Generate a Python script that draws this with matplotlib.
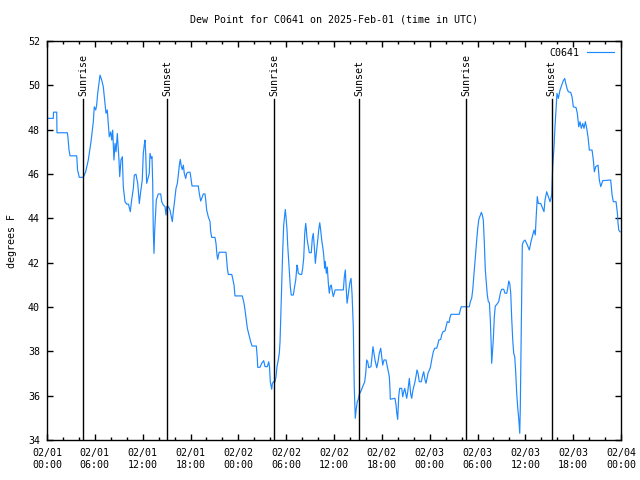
#!/usr/bin/env python3
"""
Dew point trace for station C0641, 2025-02-01 .. 02-04 (UTC), gnuplot look.
"""

import matplotlib

matplotlib.use("Agg")
import matplotlib.pyplot as plt
import matplotlib.dates as mdates
import pandas as pd

START = pd.Timestamp("2025-02-01 00:00")

# hours since START, dew point (F)
hours = [
    0.00, 0.79, 0.82, 1.22, 1.25, 2.55, 2.63, 2.76, 2.89, 3.73, 3.83, 4.05, 4.55, 4.85, 5.18,
    5.52, 5.81, 5.93, 6.11, 6.23, 6.36, 6.65, 6.86, 7.06, 7.19, 7.40, 7.56, 7.81, 7.99, 8.12,
    8.24, 8.40, 8.53, 8.66, 8.82, 9.03, 9.12, 9.28, 9.45, 9.57, 9.78, 10.00, 10.22, 10.45, 10.62,
    10.83, 10.95, 11.16, 11.38, 11.58, 11.75, 11.95, 12.08, 12.20, 12.29, 12.38, 12.50, 12.83, 12.92, 13.05,
    13.17, 13.26, 13.33, 13.42, 13.51, 13.58, 13.71, 13.96, 14.26, 14.39, 14.59, 14.80, 14.93, 15.02, 15.22,
    15.43, 15.64, 15.72, 15.84, 16.02, 16.18, 16.35, 16.47, 16.60, 16.72, 16.85, 16.97, 17.10, 17.22, 17.40,
    17.52, 17.72, 17.94, 18.06, 18.19, 18.98, 19.10, 19.28, 19.41, 19.61, 19.82, 19.91, 20.03, 20.23, 20.45,
    20.53, 20.66, 21.07, 21.20, 21.32, 21.41, 21.51, 21.61, 22.45, 22.52, 22.62, 22.74, 23.17, 23.29, 23.46,
    23.58, 24.50, 24.71, 24.84, 25.00, 25.13, 25.34, 25.55, 25.72, 26.26, 26.38, 26.43, 26.72, 26.93, 27.18,
    27.35, 27.64, 27.81, 27.91, 28.01, 28.19, 28.26, 28.39, 28.60, 28.73, 28.85, 29.01, 29.14, 29.23, 29.32,
    29.44, 29.57, 29.69, 29.82, 29.89, 29.98, 30.11, 30.19, 30.27, 30.39, 30.52, 30.64, 30.90, 31.02, 31.20,
    31.36, 31.45, 31.52, 31.74, 31.95, 32.07, 32.20, 32.33, 32.45, 32.53, 32.61, 32.78, 32.90, 33.15, 33.28,
    33.40, 33.53, 33.66, 33.78, 33.96, 34.08, 34.21, 34.33, 34.46, 34.58, 34.71, 34.83, 34.91, 35.04, 35.16,
    35.29, 35.41, 35.54, 35.66, 35.79, 35.91, 36.04, 36.13, 37.17, 37.30, 37.42, 37.51, 37.64, 37.76, 37.89,
    38.01, 38.14, 38.26, 38.42, 38.54, 38.67, 38.80, 38.92, 39.05, 39.17, 39.35, 39.51, 39.68, 39.85, 39.98,
    40.10, 40.23, 40.36, 40.64, 40.77, 40.89, 41.02, 41.14, 41.36, 41.52, 41.68, 41.86, 41.98, 42.11, 42.27,
    42.52, 42.65, 42.77, 42.94, 43.03, 43.06, 43.65, 43.78, 43.87, 43.99, 44.12, 44.24, 44.49, 44.62, 44.75,
    44.87, 45.00, 45.12, 45.25, 45.37, 45.45, 45.62, 45.75, 45.87, 46.00, 46.16, 46.29, 46.41, 46.54, 46.70,
    46.95, 47.13, 47.25, 47.42, 47.54, 47.67, 47.79, 48.08, 48.21, 48.33, 48.46, 48.63, 48.88, 49.01, 49.14,
    49.39, 49.51, 49.68, 49.93, 50.05, 50.21, 50.43, 50.55, 50.68, 51.72, 51.84, 51.97, 52.97, 53.10, 53.27,
    53.40, 53.53, 53.65, 53.78, 53.90, 54.03, 54.15, 54.28, 54.40, 54.48, 54.61, 54.73, 54.86, 54.98, 55.11,
    55.23, 55.36, 55.49, 55.61, 55.74, 55.78, 55.86, 55.98, 56.11, 56.23, 56.36, 56.53, 56.66, 56.78, 56.91,
    57.03, 57.29, 57.45, 57.66, 57.79, 57.92, 58.04, 58.17, 58.29, 58.42, 58.54, 58.67, 58.79, 58.92, 59.05,
    59.17, 59.30, 59.37, 59.50, 59.62, 59.75, 59.96, 60.25, 60.50, 60.71, 60.93, 61.09, 61.25, 61.34, 61.50,
    61.63, 61.93, 62.18, 62.34, 62.47, 62.68, 62.88, 63.10, 63.31, 63.43, 63.60, 63.72, 63.85, 63.97, 64.14,
    64.35, 64.56, 64.76, 64.94, 65.07, 65.23, 65.39, 65.69, 65.86, 66.02, 66.36, 66.52, 66.70, 66.86, 67.02,
    67.20, 67.36, 67.53, 67.70, 67.86, 68.03, 68.37, 68.53, 68.66, 68.83, 69.12, 69.28, 69.46, 69.71, 70.71,
    70.88, 71.04, 71.38, 71.55, 71.63, 71.72, 71.89,
]
dewpoint = [
    48.51, 48.51, 48.79, 48.79, 47.86, 47.86, 47.65, 47.08, 46.82, 46.82, 46.18, 45.85, 45.85, 46.10, 46.63,
    47.46, 48.36, 49.03, 48.89, 49.11, 49.64, 50.46, 50.24, 49.94, 49.48, 48.74, 48.89, 47.68, 47.90, 47.53,
    47.98, 46.63, 47.38, 47.00, 47.83, 46.63, 45.88, 46.63, 46.78, 45.43, 44.75, 44.64, 44.64, 44.30, 44.83,
    45.35, 45.95, 45.99, 45.58, 44.67, 45.20, 45.73, 46.93, 47.31, 47.53, 46.93, 45.58, 46.03, 46.93, 46.71,
    46.78, 45.58, 43.47, 42.42, 43.47, 43.92, 44.83, 45.10, 45.10, 44.75, 44.60, 44.53, 44.15, 44.53, 44.53,
    44.37, 44.00, 43.85, 44.30, 44.83, 45.35, 45.58, 45.95, 46.40, 46.66, 46.33, 46.20, 46.40, 46.03, 45.80,
    46.03, 46.08, 46.08, 45.80, 45.46, 45.46, 45.13, 44.78, 44.90, 45.10, 45.10, 44.83, 44.37, 44.07, 43.85,
    43.40, 43.14, 43.14, 42.87, 42.35, 42.15, 42.35, 42.47, 42.47, 42.20, 41.75, 41.47, 41.47, 41.29, 40.99,
    40.50, 40.50, 40.17, 39.86, 39.41, 39.04, 38.74, 38.43, 38.24, 38.24, 37.68, 37.28, 37.28, 37.46, 37.58,
    37.31, 37.31, 37.53, 37.31, 36.63, 36.29, 36.53, 36.63, 36.63, 36.86, 37.31, 37.61, 37.91, 38.43, 39.56,
    40.99, 42.57, 43.70, 44.15, 44.40, 44.07, 43.47, 42.80, 42.35, 41.67, 40.92, 40.54, 40.54, 40.84, 41.22,
    41.89, 41.75, 41.52, 41.47, 41.47, 41.75, 42.20, 43.32, 43.77, 43.50, 43.10, 42.72, 42.45, 42.45, 43.10,
    43.32, 42.72, 41.97, 42.42, 43.02, 43.47, 43.80, 43.47, 43.02, 42.72, 42.35, 41.75, 42.05, 41.52, 41.80,
    41.07, 40.62, 40.95, 40.99, 40.69, 40.47, 40.62, 40.77, 40.77, 41.37, 41.67, 40.99, 40.17, 40.47, 40.84,
    41.14, 41.29, 40.62, 39.11, 36.40, 34.98, 35.43, 35.73, 35.84, 36.07, 36.18, 36.33, 36.48, 36.63, 37.01,
    37.61, 37.53, 37.26, 37.31, 37.76, 38.21, 37.91, 37.61, 37.26, 37.53, 37.91, 38.14, 37.76, 37.38, 37.61,
    37.61, 37.38, 37.16, 36.86, 36.25, 35.84, 35.88, 35.58, 35.23, 34.93, 35.98, 36.33, 36.33, 35.95, 36.18,
    36.33, 36.10, 35.88, 36.18, 36.53, 36.78, 36.06, 35.88, 36.18, 36.40, 36.63, 36.89, 37.16, 37.01, 36.63,
    36.63, 36.93, 37.08, 36.71, 36.56, 36.78, 37.01, 37.26, 37.53, 37.76, 37.98, 38.14, 38.14, 38.29, 38.51,
    38.54, 38.74, 38.89, 38.92, 39.11, 39.34, 39.30, 39.53, 39.67, 39.67, 39.86, 40.01, 40.01, 40.24, 40.39,
    40.77, 41.37, 41.97, 42.57, 43.02, 43.55, 43.92, 44.07, 44.18, 44.27, 44.15, 43.92, 42.87, 41.67, 41.07,
    40.54, 40.24, 40.20, 39.41, 38.06, 37.46, 37.91, 38.51, 39.56, 40.04, 40.09, 40.17, 40.24, 40.47, 40.69,
    40.80, 40.80, 40.62, 40.62, 40.84, 41.17, 41.07, 40.62, 39.49, 38.51, 37.91, 37.76, 37.08, 36.10, 35.43,
    34.98, 34.30, 35.50, 39.41, 42.80, 42.95, 43.02, 42.80, 42.57, 42.95, 43.25, 43.47, 43.25, 43.92, 44.98,
    44.67, 44.67, 44.45, 44.30, 44.83, 45.20, 44.98, 44.75, 45.05, 46.33, 47.23, 48.13, 48.89, 49.64, 49.41,
    49.79, 50.01, 50.21, 50.31, 50.09, 49.86, 49.71, 49.68, 49.48, 49.03, 49.00, 48.74, 48.13, 48.36, 48.06,
    48.28, 48.06, 48.36, 48.06, 47.68, 47.08, 47.08, 46.63, 46.10, 46.33, 46.40, 45.73, 45.43, 45.70, 45.73,
    45.05, 44.75, 44.75, 44.22, 43.77, 43.47, 43.39,
]

sunrise_hours = [4.55, 28.51, 52.60]
sunset_hours = [15.09, 39.17, 63.31]
marker_top = 49.38

FONT = "DejaVu Sans Mono"
FS = 7.2


def to_time(h):
    return START + pd.to_timedelta(h, unit="h")


def main() -> None:
    plt.rcParams["font.family"] = FONT
    plt.rcParams["font.size"] = FS

    fig = plt.figure(figsize=(6.4, 4.8), dpi=100)
    ax = fig.add_axes([47 / 640, 40 / 480, 574 / 640, 399 / 480])

    t = to_time(pd.Series(hours))
    ax.plot(t, dewpoint, "-", lw=0.85, color="#1e88ff", label="C0641")

    for h, name in [(h, "Sunrise") for h in sunrise_hours] + [(h, "Sunset") for h in sunset_hours]:
        x = to_time(h)
        ax.plot([x, x], [34, marker_top], color="black", lw=1.0)
        ax.text(x, marker_top + 0.15, name, rotation=90, ha="center", va="bottom", fontsize=FS)

    ax.set_xlim(START, START + pd.Timedelta(hours=72))
    ax.set_ylim(34, 52)
    ax.set_yticks(range(34, 53, 2))
    ax.xaxis.set_major_locator(mdates.HourLocator(byhour=range(0, 24, 6)))
    ax.xaxis.set_minor_locator(mdates.HourLocator(byhour=range(0, 24, 2)))
    ax.xaxis.set_major_formatter(mdates.DateFormatter("%m/%d\n%H:%M"))

    ax.tick_params(which="both", direction="in", top=True, right=True, labelsize=FS, width=1.0)
    ax.tick_params(which="major", length=4.5)
    ax.tick_params(axis="x", which="major", pad=6)
    ax.tick_params(axis="y", which="major", pad=5)
    ax.tick_params(which="minor", length=2.5)
    for s in ax.spines.values():
        s.set_linewidth(1.0)

    ax.set_ylabel("degrees F", fontsize=FS, labelpad=8)
    ax.set_title("Dew Point for C0641 on 2025-Feb-01 (time in UTC)", fontsize=FS, pad=13)

    ax.legend(loc="upper right", frameon=False, markerfirst=False, fontsize=FS,
              handlelength=2.7, borderaxespad=0.3, handletextpad=0.8)

    fig.savefig("out.png", dpi=100)
    plt.close(fig)


if __name__ == "__main__":
    main()
